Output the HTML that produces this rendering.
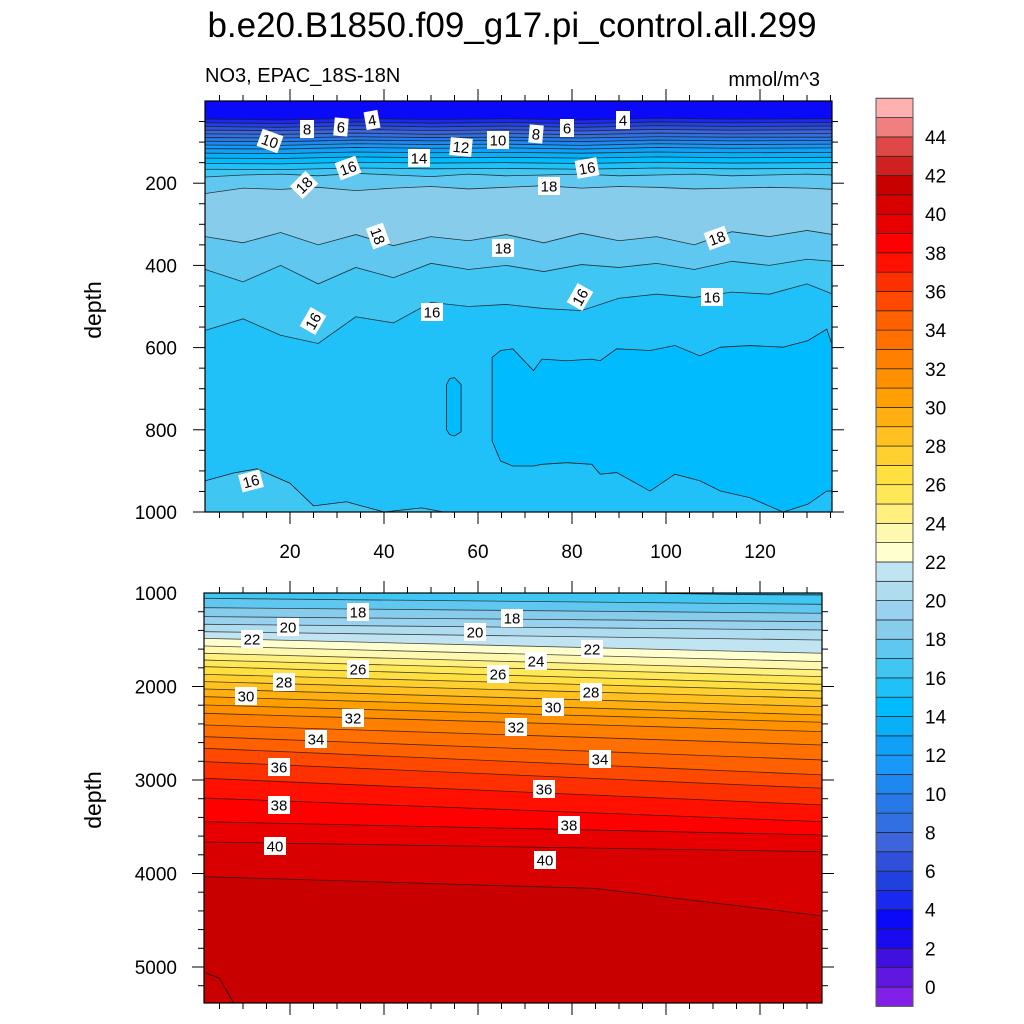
<!DOCTYPE html>
<html><head><meta charset="utf-8"><style>
html,body{margin:0;padding:0;background:#fff;}
svg{display:block;font-family:"Liberation Sans",sans-serif;}
</style></head><body>
<svg id="chart" width="1024" height="1024" viewBox="0 0 1024 1024" xmlns="http://www.w3.org/2000/svg">
<text x="512" y="37" text-anchor="middle" font-size="35">b.e20.B1850.f09_g17.pi_control.all.299</text>
<text x="205" y="82" font-size="20">NO3, EPAC_18S-18N</text>
<text x="820" y="86" text-anchor="end" font-size="20">mmol/m^3</text>
<text transform="translate(101,310) rotate(-90)" text-anchor="middle" font-size="23">depth</text>
<text transform="translate(101,800) rotate(-90)" text-anchor="middle" font-size="23">depth</text>
<defs>
<clipPath id="clipTop"><rect x="205" y="101" width="627" height="411"/></clipPath>
<clipPath id="clipBot"><rect x="204" y="593" width="618" height="410"/></clipPath>
</defs>
<g id="topPanel" clip-path="url(#clipTop)"></g>
<g id="botPanel" clip-path="url(#clipBot)"></g>
<g id="axes"></g>
<g id="labels"></g>
<g id="colorbar"></g>
</svg>
<script>
// ---- data ----
const colorLevels = [-1,0,1,2,3,4,5,6,7,8,9,10,11,12,13,14,15,16,17,18,19,20,21,22,23,24,25,26,27,28,29,30,31,32,33,34,35,36,37,38,39,40,41,42,43,44,45];
const levelColors = ["#8020e8","#6018e0","#4010e0","#1a0af0","#0a0af8","#1a28f0","#2040e0","#3050dc","#3c64dc","#3070e0","#2878e8","#1e88f0","#1898f8","#10a0f8","#08b0f8","#00bbfd","#20c0f8","#40c6f2","#60c8f0","#88cceb","#98d2ee","#b0dcf0","#c0e4f2","#ffffd0","#fff8b0","#fff080","#ffe858","#ffe040","#ffd030","#ffc020","#ffb010","#ffa000","#ff9000","#ff8000","#ff7000","#ff6000","#ff4800","#ff3000","#ff1000","#ff0000","#e80000","#d80000","#c80000","#d02020","#e04848","#f08080","#ffb0b0"];
const colorbarTicks = [0,2,4,6,8,10,12,14,16,18,20,22,24,26,28,30,32,34,36,38,40,42,44];

// top panel (0-1000 m)
const topXNodes = [2,10,18,26,34,42,50,58,66,74,82,90,98,106,114,122,130,135.5];
const surfXNodes = [2,18,34,50,66,82,98,114,135.5];
const surfLevels = [4,5,6,7,8,9,10,11,12,13,14,15,16];
const surfDepths = [
 [44,46,42,45,43,46,42,44,43],
 [53,55,51,54,52,55,51,53,52],
 [62,64,60,63,61,64,60,62,61],
 [71,72,69,72,70,73,69,71,70],
 [80,81,78,81,79,82,78,80,79],
 [89,90,87,89,88,90,87,88,88],
 [98,99,95,97,96,99,95,97,96],
 [107,108,104,106,105,108,104,106,105],
 [116,117,113,115,114,117,113,115,114],
 [127,128,124,126,125,127,124,126,125],
 [139,140,136,138,137,139,136,138,137],
 [152,153,149,151,150,152,149,151,150],
 [166,167,163,165,164,166,163,165,164]
];
const upper17 = [185,180,178,182,176,180,184,178,182,180,178,182,180,178,182,180,178,180];
const upper18 = [225,212,215,210,218,212,208,214,210,206,212,208,210,214,212,210,212,215];
const lower18 = [330,345,320,350,325,352,330,340,325,345,322,340,330,350,318,330,315,325];
const lower17 = [410,440,400,445,405,430,395,410,400,415,398,405,395,410,390,400,385,390];
const lower16 = [558,530,570,590,525,540,490,500,495,505,510,480,470,478,465,470,445,470];
const topBandValues = [3,4,5,6,7,8,9,10,11,12,13,14,15,16,17,18,17,16,15];
// closed <15 region (deep, east)
const low15X = [63,64.8,67.4,71.8,73.6,78.9,84.2,86,89.5,96.6,101.9,107.2,111.6,117.8,124.9,130.2,134.2,135.5];
const low15Top = [624,607,603,656,628,632,628,632,603,607,595,620,599,595,599,583,555,599];
const low15Bot = [827,876,888,888,884,880,884,908,904,949,908,924,949,965,1000,981,949,949];
const smallLowX = [53.3,54,55,56.4];
const smallLowTop = [690,675,673,690];
const smallLowBot = [800,812,815,805];
// deep 16 region west
const deep16X = [2,8,13,20,25,32,40,48,55];
const deep16Depth = [924,905,895,930,985,975,1000,990,1005];

// bottom panel (1000-5385 m)
const botLevels = [17,18,19,20,21,22,23,24,25,26,27,28,29,30,31,32,33,34,35,36,37,38,39,40];
const botLeftDepth = [1057,1157,1253,1335,1414,1485,1567,1645,1717,1788,1870,1948,2027,2109,2198,2287,2412,2537,2661,2804,2982,3193,3446,3663];
const botRightDepth = [1121,1217,1307,1396,1503,1645,1734,1823,1895,1977,2048,2127,2216,2305,2383,2483,2626,2786,2946,3089,3267,3446,3588,3767];
const bot41X = [2,85,133.5];
const bot41Depth = [4034,4160,4455];
const bot16X = [92,100,110,120,133.5];
const bot16Depth = [990,1005,1012,1018,1021];
const bot42X = [2,5,8];
const bot42Depth = [5060,5120,5385];

// ---- scales ----
const xTop = v => 196 + v*4.7;
const yTop = d => 101 + d*0.411;
const xBot = v => 196 + v*4.7;
const yBot = d => 593 + (d-1000)*0.0935;
const col = v => levelColors[colorLevels.indexOf(v)];
const NS = "http://www.w3.org/2000/svg";
function mk(tag, attrs, parent){const e=document.createElementNS(NS,tag);for(const k in attrs)e.setAttribute(k,attrs[k]);parent.appendChild(e);return e;}
function pts(xs, ds, xf, yf){return xs.map((x,i)=>[xf(x),yf(ds[i])]);}

// ---- top panel ----
const topG = document.getElementById('topPanel');
const topBounds = [pts([2,135.5],[0,0],xTop,yTop)];
surfDepths.forEach(a=>topBounds.push(pts(surfXNodes,a,xTop,yTop)));
[upper17,upper18,lower18,lower17,lower16].forEach(a=>topBounds.push(pts(topXNodes,a,xTop,yTop)));
topBounds.push(pts([2,135.5],[1000,1000],xTop,yTop));
const ext = p => [[p[0][0]-12,p[0][1]],...p,[p[p.length-1][0]+12,p[p.length-1][1]]];
for(let i=0;i<topBandValues.length;i++){
  const a=ext(topBounds[i]), b=ext(topBounds[i+1]).slice().reverse();
  const poly=mk('polygon',{points:a.concat(b).map(p=>p.join(',')).join(' '),fill:col(topBandValues[i]),stroke:col(topBandValues[i]),'stroke-width':0.6},topG);
  
  
}
function closedRegion(xs,tops,bots,v,name,parent,xf,yf){
  const p=pts(xs,tops,xf,yf).concat(pts(xs,bots,xf,yf).reverse());
  const e=mk('polygon',{points:p.map(q=>q.join(',')).join(' '),fill:col(v),stroke:'#222','stroke-width':0.8},parent);
  
  
}
closedRegion(low15X,low15Top,low15Bot,14,'low-15-region',topG,xTop,yTop);
closedRegion(smallLowX,smallLowTop,smallLowBot,14,'small-low-15-region',topG,xTop,yTop);
{
  const p=pts(deep16X,deep16Depth,xTop,yTop);
  const poly=[[xTop(-2),p[0][1]],...p,[xTop(55),yTop(1010)],[xTop(-2),yTop(1010)]];
  const e=mk('polygon',{points:poly.map(q=>q.join(',')).join(' '),fill:col(16),stroke:'none'},topG);
  
  
}
for(let i=1;i<topBounds.length-1;i++){
  const l=mk('polyline',{points:ext(topBounds[i]).map(p=>p.join(',')).join(' '),fill:'none',stroke:'#1a1a1a','stroke-width':0.8,'stroke-opacity':0.85},topG);
  
  
}
{
  const l=mk('polyline',{points:pts(deep16X,deep16Depth,xTop,yTop).map(p=>p.join(',')).join(' '),fill:'none',stroke:'#1a1a1a','stroke-width':0.8},topG);
  
  
}

// ---- bottom panel ----
const botG = document.getElementById('botPanel');
const bBounds=[pts([2,133.5],[1000,1000],xBot,yBot)];
botLevels.forEach((lv,i)=>bBounds.push(pts([2,133.5],[botLeftDepth[i],botRightDepth[i]],xBot,yBot)));
bBounds.push(pts(bot41X,bot41Depth,xBot,yBot));
bBounds.push(pts([2,133.5],[5400,5400],xBot,yBot));
const botBandValues=[16].concat(botLevels).concat([41]);
for(let i=0;i<botBandValues.length;i++){
  const a=ext(bBounds[i]), b=ext(bBounds[i+1]).slice().reverse();
  const poly=mk('polygon',{points:a.concat(b).map(p=>p.join(',')).join(' '),fill:col(botBandValues[i]),stroke:col(botBandValues[i]),'stroke-width':0.6},botG);
  
  
}
{
  const p=pts(bot16X,bot16Depth,xBot,yBot);
  const poly=[[p[0][0],yBot(990)],...p,[xBot(136),p[p.length-1][1]],[xBot(136),yBot(990)]];
  const e=mk('polygon',{points:poly.map(q=>q.join(',')).join(' '),fill:col(15),stroke:'none'},botG);
  
  
}
for(let i=1;i<bBounds.length-1;i++){
  const l=mk('polyline',{points:ext(bBounds[i]).map(p=>p.join(',')).join(' '),fill:'none',stroke:'#1a1a1a','stroke-width':0.8,'stroke-opacity':0.8},botG);
  
  
}
[[bot16X,bot16Depth],[bot42X,bot42Depth]].forEach(([xs,ds])=>{
  const l=mk('polyline',{points:pts(xs,ds,xBot,yBot).map(p=>p.join(',')).join(' '),fill:'none',stroke:'#1a1a1a','stroke-width':0.8},botG);
  
  
});

// ---- axes ----
const ax=document.getElementById('axes');
function frame(x0,y0,x1,y1,name){const r=mk('rect',{x:x0,y:y0,width:x1-x0,height:y1-y0,fill:'none',stroke:'#000','stroke-width':1.2},ax);}
frame(205,101,832,512,'top-plot-frame');
frame(204,593,822,1003,'bottom-plot-frame');
function tick(x1,y1,x2,y2){mk('line',{x1:x1,y1:y1,x2:x2,y2:y2,stroke:'#000','stroke-width':1},ax);}
for(let v=5;v<=135;v+=5){const x=xTop(v);if(x<205||x>832)continue;const L=v%20===0?12:6;tick(x,512,x,512+L);tick(x,101,x,101-L);}
[20,40,60,80,100,120].forEach(v=>{const t=mk('text',{x:xTop(v),y:558,'text-anchor':'middle','font-size':19},ax);t.textContent=v;});
for(let d=50;d<=1000;d+=50){const y=yTop(d);const L=d%200===0?12:6;tick(205-L,y,205,y);tick(832,y,832+L,y);}
[200,400,600,800,1000].forEach(d=>{const t=mk('text',{x:177,y:yTop(d)+7,'text-anchor':'end','font-size':19},ax);t.textContent=d;});
for(let v=5;v<=135;v+=5){const x=xBot(v);if(x<204||x>822)continue;const L=v%20===0?12:6;tick(x,1003,x,1003+L);tick(x,593,x,593-L);}
for(let d=1200;d<=5385;d+=200){const y=yBot(d);const L=d%1000===0?12:6;tick(204-L,y,204,y);tick(822,y,822+L,y);}
[1000,2000,3000,4000,5000].forEach(d=>{const t=mk('text',{x:177,y:yBot(d)+7,'text-anchor':'end','font-size':19},ax);t.textContent=d;});

// ---- contour labels ----
const labTexts=["4","6","8","10","12","14","10","8","6","4","16","16","18","18","18","18","18","16","16","16","16","16",
"18","18","20","20","22","22","24","26","26","28","28","30","30","32","32","34","34","36","36","38","38","40","40"];
const labPos=[[372,120,-10],[341,127,5],[307,129,0],[270,141,20],[461,147,5],[419,158,0],[498,140,0],[536,134,5],[567,128,0],[623,120,0],[348,168,-20],[587,168,-10],[304,185,-45],[549,186,0],[378,236,70],[503,248,0],[717,238,-20],[580,297,-60],[712,297,0],[432,312,0],[313,321,-60],[251,481,-15],
[358,612,0],[512,618,0],[288,627,0],[475,632,0],[252,639,0],[592,649,0],[536,661,0],[358,669,0],[498,674,0],[284,682,0],[591,692,0],[246,696,0],[553,707,0],[353,718,0],[516,727,0],[316,739,0],[600,759,0],[279,767,0],[544,789,0],[279,805,0],[569,825,0],[275,846,0],[545,860,0]];
const lg=document.getElementById('labels');
labTexts.forEach((s,i)=>{const [x,y,r]=labPos[i];
  const g=mk('g',{transform:`translate(${x},${y}) rotate(${r})`},lg);
  
  
  const w=s.length>1?22:14;
  mk('rect',{x:-w/2,y:-9,width:w,height:18,fill:'#fff'},g);
  const t=mk('text',{x:0,y:5.5,'text-anchor':'middle','font-size':15},g);t.textContent=s;});

// ---- colorbar ----
const cb=document.getElementById('colorbar');
const yCB=v=>987-v*19.32;
colorLevels.forEach((v,i)=>{const r=mk('rect',{x:876,y:yCB(v+1),width:37,height:19.32,fill:levelColors[i],stroke:'#222','stroke-width':0.7},cb);
  
  });
mk('rect',{x:876,y:yCB(46),width:37,height:yCB(-1)-yCB(46),fill:'none',stroke:'#555','stroke-width':1},cb);
colorbarTicks.forEach(v=>{const t=mk('text',{x:925,y:yCB(v)+7,'font-size':19},cb);t.textContent=v;});
</script>
</body></html>
